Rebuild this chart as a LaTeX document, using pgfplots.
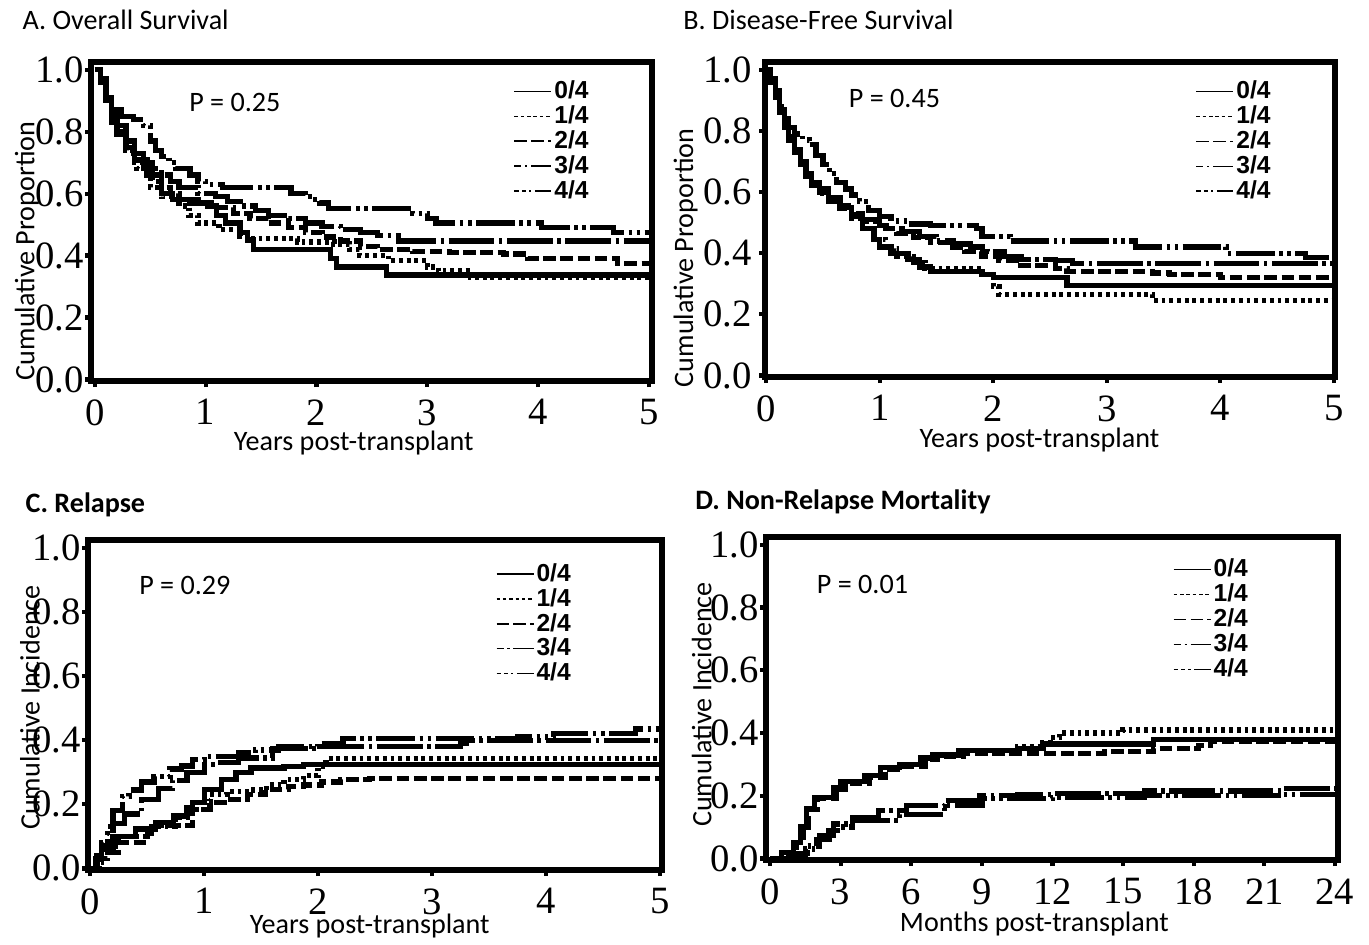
\documentclass[border=0pt]{standalone}
\usepackage{fontspec}
\setmainfont{Carlito}
\newfontfamily\tickfont{Liberation Serif}
\newfontfamily\legfont{Liberation Sans}
\usepackage{pgfplots}
\pgfplotsset{compat=1.18}

% curve styles (s) and legend sample styles (l) for the five groups
\pgfplotsset{
  s0/.style={solid},
  s1/.style={dash pattern=on 1.1pt off 1.1pt},
  s2/.style={dash pattern=on 3.6pt off 1.3pt},
  s3/.style={dash pattern=on 13pt off 1.3pt on 1pt off 1.3pt},
  s4/.style={dash pattern=on 11pt off 1.3pt on 1pt off 1.3pt on 1pt off 1.3pt},
  l0/.style={solid},
  l1/.style={dash pattern=on 1pt off 0.8pt},
  l2/.style={dash pattern=on 3.6pt off 1.2pt},
  l3/.style={dash pattern=on 2pt off 1.1pt on 0.6pt off 1.1pt on 20pt off 1pt},
  l4/.style={dash pattern=on 1.2pt off 0.9pt on 1.2pt off 0.9pt on 0.6pt off 1pt on 20pt off 1pt},
  km/.style={
    scale only axis,
    anchor=south west,
    axis line style={line width=1.8pt},
    ymin=-0.005, ymax=1.025,
    ytick={0,0.2,0.4,0.6,0.8,1.0},
    tick pos=left, tick align=outside,
    major tick length=0.06cm,
    tick style={line width=1.2pt, black},
    /pgf/number format/assume math mode=true,
    tick label style={font=\tickfont\fontsize{11}{11}\selectfont},
    yticklabel style={/pgf/number format/fixed, /pgf/number format/fixed zerofill,
      /pgf/number format/precision=1},
    every axis plot/.append style={line width=1.5pt, black, const plot, mark=none},
    legend style={draw=none, fill=none, inner sep=0pt, anchor=north west,
      font=\legfont\bfseries\fontsize{7}{7}\selectfont,
      row sep=0.9pt, nodes={inner sep=0.6pt, text height=4.6pt, text depth=0.4pt}},
    legend cell align=left,
    legend image code/.code={\draw[#1, line width=0.5pt] (0cm,0cm) -- (0.37cm,0cm);},
  },
}

\begin{document}
\begin{tikzpicture}
\path[use as bounding box] (0,0) rectangle (13.69cm,-9.44cm);

% A. Overall survival
\begin{axis}[km, at={(0.91cm,-3.81cm)}, width=5.61cm, height=3.19cm,
  xmin=-0.035, xmax=5.03, xtick={0,1,2,3,4,5},
  yticklabel style={xshift=0.11cm},
  legend style={at={(0.752,0.944)}}]
\addplot[s0, forget plot] coordinates {(0,1) (0.05,0.96) (0.1,0.91) (0.15,0.86) (0.2,0.82) (0.28,0.77) (0.36,0.71) (0.47,0.66) (0.6,0.60) (0.7,0.58) (0.86,0.57) (1.02,0.56) (1.1,0.53) (1.18,0.505) (1.31,0.474) (1.38,0.45) (1.43,0.42) (2.13,0.39) (2.18,0.363) (2.63,0.337) (5,0.337)};
\addplot[s1, forget plot] coordinates {(0,1) (0.05,0.95) (0.1,0.9) (0.15,0.85) (0.2,0.8) (0.28,0.74) (0.38,0.68) (0.5,0.62) (0.6,0.59) (0.76,0.56) (0.85,0.53) (0.93,0.505) (1.12,0.484) (1.31,0.463) (1.38,0.455) (1.83,0.444) (2.16,0.437) (2.3,0.42) (2.39,0.40) (2.65,0.384) (3.0,0.363) (3.1,0.35) (3.39,0.33) (5,0.33)};
\addplot[s2, forget plot] coordinates {(0,1) (0.05,0.96) (0.1,0.9) (0.15,0.83) (0.2,0.79) (0.28,0.75) (0.36,0.70) (0.44,0.67) (0.52,0.64) (0.6,0.62) (0.68,0.60) (0.76,0.58) (0.93,0.57) (1.05,0.555) (1.25,0.537) (1.4,0.52) (1.57,0.505) (1.75,0.49) (1.9,0.474) (2.05,0.46) (2.22,0.447) (2.4,0.43) (2.55,0.42) (2.87,0.413) (3.2,0.41) (3.69,0.405) (3.91,0.39) (4.72,0.374) (5,0.374)};
\addplot[s3, forget plot] coordinates {(0,1) (0.05,0.96) (0.1,0.9) (0.15,0.84) (0.2,0.8) (0.28,0.77) (0.35,0.73) (0.44,0.70) (0.52,0.68) (0.6,0.66) (0.68,0.64) (0.76,0.62) (0.93,0.60) (1.09,0.59) (1.2,0.575) (1.31,0.56) (1.45,0.545) (1.57,0.53) (1.75,0.52) (1.9,0.505) (2.05,0.495) (2.22,0.484) (2.4,0.475) (2.55,0.465) (2.74,0.447) (5,0.447)};
\addplot[s4, forget plot] coordinates {(0,1) (0.05,0.97) (0.1,0.92) (0.15,0.87) (0.24,0.85) (0.35,0.84) (0.44,0.82) (0.5,0.77) (0.55,0.74) (0.6,0.72) (0.67,0.70) (0.73,0.68) (0.86,0.66) (0.93,0.64) (1.0,0.63) (1.15,0.62) (1.77,0.60) (1.9,0.59) (1.97,0.58) (2.03,0.57) (2.11,0.553) (2.87,0.537) (3.0,0.52) (3.08,0.505) (4.03,0.49) (4.68,0.474) (5,0.474)};
\addlegendimage{l0}\addlegendimage{l1}\addlegendimage{l2}\addlegendimage{l3}\addlegendimage{l4}
\legend{0/4,1/4,2/4,3/4,4/4}
\end{axis}

% B. Disease-free survival
\begin{axis}[km, at={(7.65cm,-3.77cm)}, width=5.70cm, height=3.15cm,
  xmin=-0.01, xmax=5.01, xtick={0,1,2,3,4,5},
  yticklabel style={xshift=0.05cm},
  legend style={at={(0.754,0.943)}}]
\addplot[s0, forget plot] coordinates {(0,1) (0.04,0.96) (0.08,0.92) (0.12,0.87) (0.16,0.82) (0.2,0.78) (0.25,0.74) (0.3,0.70) (0.35,0.66) (0.4,0.63) (0.47,0.60) (0.55,0.575) (0.65,0.55) (0.75,0.52) (0.85,0.48) (0.95,0.445) (1.0,0.42) (1.1,0.40) (1.25,0.38) (1.35,0.355) (1.45,0.34) (1.9,0.33) (2.0,0.32) (2.65,0.295) (5,0.295)};
\addplot[s1, forget plot] coordinates {(0,1) (0.04,0.95) (0.08,0.91) (0.12,0.86) (0.16,0.81) (0.2,0.77) (0.25,0.73) (0.3,0.69) (0.35,0.655) (0.4,0.62) (0.47,0.595) (0.55,0.57) (0.65,0.545) (0.75,0.515) (0.85,0.48) (0.95,0.445) (1.05,0.415) (1.15,0.39) (1.3,0.37) (1.4,0.35) (1.9,0.33) (2.0,0.29) (2.05,0.265) (3.4,0.245) (5,0.245)};
\addplot[s2, forget plot] coordinates {(0,1) (0.04,0.96) (0.08,0.91) (0.12,0.86) (0.16,0.81) (0.2,0.77) (0.25,0.73) (0.3,0.69) (0.35,0.65) (0.4,0.62) (0.47,0.60) (0.55,0.57) (0.65,0.545) (0.75,0.525) (0.85,0.505) (1.0,0.48) (1.15,0.465) (1.3,0.45) (1.45,0.435) (1.6,0.42) (1.75,0.405) (1.9,0.39) (2.05,0.375) (2.2,0.36) (2.55,0.35) (2.65,0.34) (3.4,0.335) (3.55,0.33) (4.0,0.32) (5,0.32)};
\addplot[s3, forget plot] coordinates {(0,1) (0.04,0.96) (0.08,0.92) (0.12,0.87) (0.16,0.82) (0.2,0.78) (0.25,0.74) (0.3,0.70) (0.35,0.66) (0.4,0.63) (0.47,0.61) (0.55,0.58) (0.65,0.555) (0.75,0.53) (0.85,0.51) (1.0,0.49) (1.1,0.48) (1.2,0.47) (1.35,0.455) (1.5,0.44) (1.65,0.43) (1.8,0.42) (1.95,0.405) (2.1,0.39) (2.25,0.38) (2.55,0.375) (2.7,0.365) (5,0.365)};
\addplot[s4, forget plot] coordinates {(0,1) (0.04,0.97) (0.08,0.93) (0.12,0.88) (0.16,0.84) (0.2,0.81) (0.25,0.79) (0.32,0.77) (0.38,0.755) (0.44,0.72) (0.5,0.69) (0.56,0.66) (0.62,0.63) (0.7,0.61) (0.75,0.59) (0.82,0.57) (0.9,0.54) (1.0,0.52) (1.1,0.505) (1.25,0.495) (1.45,0.49) (1.85,0.48) (1.9,0.455) (2.15,0.44) (3.25,0.42) (4.05,0.40) (4.75,0.385) (5,0.385)};
\addlegendimage{l0}\addlegendimage{l1}\addlegendimage{l2}\addlegendimage{l3}\addlegendimage{l4}
\legend{0/4,1/4,2/4,3/4,4/4}
\end{axis}

% C. Relapse
\begin{axis}[km, at={(0.88cm,-8.70cm)}, width=5.74cm, height=3.30cm,
  xmin=-0.02, xmax=5.02, xtick={0,1,2,3,4,5},
  yticklabel style={xshift=0.11cm},
  legend style={at={(0.709,0.933)}}]
\addplot[s0, forget plot] coordinates {(0,0) (0.06,0.03) (0.1,0.06) (0.2,0.10) (0.4,0.123) (0.57,0.144) (0.73,0.164) (0.85,0.19) (0.9,0.205) (1.0,0.246) (1.15,0.277) (1.28,0.30) (1.41,0.313) (1.7,0.318) (1.87,0.325) (5,0.325)};
\addplot[s1, forget plot] coordinates {(0,0) (0.08,0.03) (0.15,0.07) (0.25,0.10) (0.5,0.13) (0.75,0.16) (0.9,0.185) (1.0,0.21) (1.05,0.23) (1.2,0.24) (1.4,0.245) (1.55,0.26) (1.7,0.277) (1.87,0.29) (2.0,0.318) (2.07,0.342) (5,0.342)};
\addplot[s2, forget plot] coordinates {(0,0) (0.05,0.02) (0.1,0.05) (0.25,0.08) (0.5,0.11) (0.57,0.133) (0.9,0.185) (1.05,0.205) (1.2,0.215) (1.38,0.23) (1.54,0.246) (1.74,0.256) (1.87,0.26) (2.03,0.27) (2.2,0.277) (2.45,0.28) (5,0.28)};
\addplot[s3, forget plot] coordinates {(0,0) (0.06,0.04) (0.1,0.07) (0.15,0.11) (0.2,0.14) (0.3,0.17) (0.45,0.215) (0.6,0.25) (0.72,0.275) (0.85,0.30) (1.0,0.325) (1.1,0.33) (1.3,0.345) (1.6,0.375) (2.0,0.38) (3.25,0.39) (3.3,0.40) (5,0.405)};
\addplot[s4, forget plot] coordinates {(0,0) (0.05,0.03) (0.1,0.08) (0.15,0.13) (0.2,0.18) (0.28,0.225) (0.34,0.245) (0.45,0.27) (0.56,0.287) (0.7,0.31) (0.8,0.32) (0.9,0.34) (1.0,0.35) (1.3,0.36) (1.45,0.37) (1.65,0.38) (2.0,0.39) (2.22,0.405) (3.75,0.41) (4.07,0.42) (4.79,0.435) (5,0.435)};
\addlegendimage{l0}\addlegendimage{l1}\addlegendimage{l2}\addlegendimage{l3}\addlegendimage{l4}
\legend{0/4,1/4,2/4,3/4,4/4}
\end{axis}

% D. Non-relapse mortality
\begin{axis}[km, at={(7.66cm,-8.60cm)}, width=5.72cm, height=3.23cm,
  xmin=-0.17, xmax=24.13, xtick={0,3,...,24},
  yticklabel style={xshift=0.11cm},
  legend style={at={(0.71,0.935)}}]
\addplot[s0, forget plot] coordinates {(0,0) (0.5,0.02) (1.0,0.05) (1.3,0.10) (1.55,0.16) (1.9,0.195) (2.7,0.225) (3.0,0.245) (4.0,0.265) (4.7,0.29) (5.5,0.30) (6.4,0.32) (6.9,0.33) (8.0,0.345) (10.5,0.35) (11.6,0.365) (16.3,0.38) (24,0.38)};
\addplot[s1, forget plot] coordinates {(0,0) (0.5,0.02) (1.0,0.05) (1.3,0.10) (1.55,0.16) (1.9,0.195) (2.7,0.225) (3.0,0.245) (4.0,0.265) (4.7,0.29) (5.5,0.30) (6.4,0.32) (6.9,0.33) (8.0,0.345) (10.5,0.355) (11.6,0.37) (11.9,0.385) (12.3,0.40) (15.0,0.41) (24,0.41)};
\addplot[s2, forget plot] coordinates {(0,0) (0.6,0.02) (1.1,0.05) (1.4,0.10) (1.65,0.155) (2.0,0.19) (2.8,0.22) (3.2,0.24) (4.2,0.26) (4.9,0.285) (5.7,0.295) (6.6,0.315) (7.1,0.325) (8.2,0.335) (11.4,0.335) (14.2,0.34) (16.3,0.35) (18.2,0.36) (18.7,0.372) (24,0.372)};
\addplot[s3, forget plot] coordinates {(0,0) (0.8,0.01) (1.2,0.016) (1.6,0.04) (2.1,0.074) (2.7,0.11) (3.5,0.13) (4.6,0.152) (5.8,0.168) (7.4,0.184) (8.9,0.2) (10.5,0.205) (12,0.208) (15.9,0.215) (21.8,0.222) (24,0.222)};
\addplot[s4, forget plot] coordinates {(0,0) (1.0,0.01) (1.5,0.03) (2.0,0.06) (2.5,0.09) (3.0,0.10) (3.5,0.12) (5.5,0.14) (7.4,0.168) (9.0,0.19) (12,0.195) (15.9,0.2) (21.8,0.205) (24,0.205)};
\addlegendimage{l0}\addlegendimage{l1}\addlegendimage{l2}\addlegendimage{l3}\addlegendimage{l4}
\legend{0/4,1/4,2/4,3/4,4/4}
\end{axis}

% titles, labels and p values (positions in pixels of the 1369 x 944 page)
\begin{scope}[x=0.01cm, y=-0.01cm, every node/.style={font=\fontsize{8}{9}\selectfont, inner sep=0pt}]
\node[anchor=base west] at (22,30) {A. Overall Survival};
\node[anchor=base west] at (683,30) {B. Disease-Free Survival};
\node[anchor=base west, font=\bfseries\fontsize{8}{9}\selectfont] at (25,513) {C. Relapse};
\node[anchor=base west, font=\bfseries\fontsize{8}{9}\selectfont] at (695,510) {D. Non-Relapse Mortality};
\node at (235,103) {P = 0.25};
\node at (895,99) {P = 0.45};
\node at (185,586) {P = 0.29};
\node at (863,585) {P = 0.01};
\node[rotate=90] at (27,251) {Cumulative Proportion};
\node[rotate=90] at (686,258) {Cumulative Proportion};
\node[rotate=90] at (30,708) {Cumulative Incidence};
\node[rotate=90] at (702,705) {Cumulative Incidence};
\node at (354,443) {Years post-transplant};
\node at (1040,440) {Years post-transplant};
\node at (370,927) {Years post-transplant};
\node at (1035,925) {Months post-transplant};
\end{scope}
\end{tikzpicture}
\end{document}
